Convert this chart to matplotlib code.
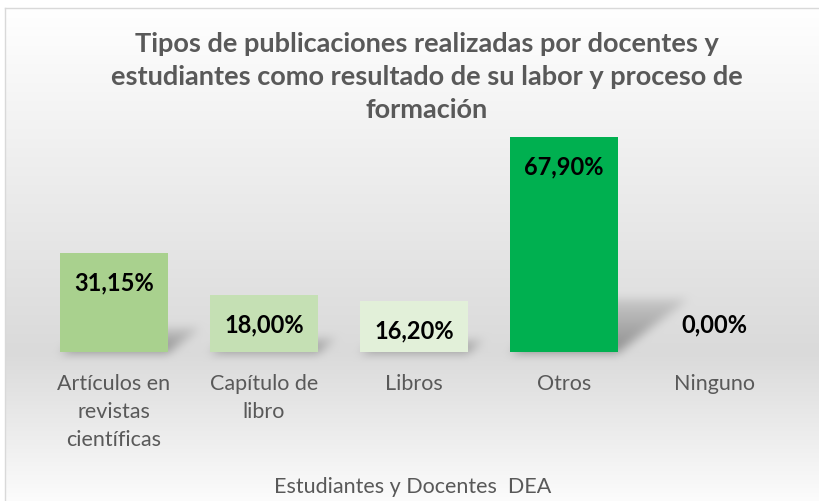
import numpy as np
import matplotlib.pyplot as plt
from matplotlib.lines import Line2D

categorias = ['Artículos en\nrevistas\ncientíficas', 'Capítulo de\nlibro', 'Libros', 'Otros', 'Ninguno']
porcentajes = [31.15, 18.00, 16.20, 67.90, 0.00]
etiquetas = ['31,15%', '18,00%', '16,20%', '67,90%', '0,00%']
colores = ['#a9d18e', '#c5e0b4', '#e2f0d9', '#00b050', '#ffffff']

titulo = 'Tipos de publicaciones realizadas por docentes y\nestudiantes como resultado de su labor y proceso de\nformación'
eje_x = 'Estudiantes y Docentes  DEA'

gris = '#595959'
W, H = 820, 501

plt.rcParams['font.family'] = ['Lato', 'DejaVu Sans']

fig = plt.figure(figsize=(W / 100, H / 100), dpi=100)
ax = fig.add_axes([39 / W, 149 / H, 750 / W, 222 / H])
ax.set_xlim(-0.5, 4.5)
ax.set_ylim(0, 70)

x = np.arange(len(categorias))
barras = ax.bar(x, porcentajes, width=0.715, color=colores, zorder=3)

# --- fondo degradado + sombras de las barras ---
base = H - ax.transData.transform((0, 0))[1]
filas = np.arange(H)
v = np.where(filas < base,
             255 + (218 - 255) * (filas - 8) / (base - 8),
             218 + (252 - 218) * (filas - base) / (H - base))
fondo = np.repeat(v[:, None], W, axis=1) / 255.0

cols = np.arange(W)[None, :]
rr = filas[:, None]
sombra = np.zeros((H, W))
for b in barras:
    if b.get_height() <= 0:
        continue
    (x0, y0), (x1, y1) = ax.transData.transform([(b.get_x(), 0), (b.get_x() + b.get_width(), b.get_height())])
    h = y1 - y0
    alto = 0.25 * h
    d = 0.33 * h
    t = (base - rr) / alto
    dentro = (t >= 0) & (t <= 1) & (cols >= x0 + d * t) & (cols <= x1 + d * t)
    sombra = np.maximum(sombra, dentro * (1 - 0.7 * np.clip(t, 0, 1)))


def suavizar(a, n):
    k = np.ones(n) / n
    a = np.apply_along_axis(lambda f: np.convolve(f, k, mode='same'), 1, a)
    a = np.apply_along_axis(lambda f: np.convolve(f, k, mode='same'), 0, a)
    return a


sombra = suavizar(suavizar(sombra, 11), 11)
fondo = fondo * (1 - 0.35 * sombra)
fondo[:8, :] = 1.0
fondo[:, :5] = 1.0
img = np.dstack([fondo] * 3)

bgax = fig.add_axes([0, 0, 1, 1], zorder=-1)
bgax.imshow(img, aspect='auto', interpolation='nearest')
bgax.axis('off')

fig.add_artist(Line2D([5.5 / W, 5.5 / W], [0, 1 - 8 / H], transform=fig.transFigure, color='#d9d9d9', lw=1))
fig.add_artist(Line2D([5.5 / W, 1], [1 - 8 / H, 1 - 8 / H], transform=fig.transFigure, color='#d9d9d9', lw=1))

# --- etiquetas de datos ---
for i, (val, txt) in enumerate(zip(porcentajes, etiquetas)):
    off = -30 if val > 5 else 27
    ax.annotate(txt, xy=(i, val), xytext=(0, off), textcoords='offset pixels',
                ha='center', va='center', fontsize=17, fontweight='bold', color='black', zorder=5)

ax.patch.set_alpha(0)
for s in ax.spines.values():
    s.set_visible(False)
ax.set_yticks([])
ax.set_xticks(x)
ax.set_xticklabels(categorias, fontsize=15.5, color=gris, linespacing=1.5)
ax.tick_params(axis='x', length=0, pad=15.5)

fig.text(427 / W, 1 - 77 / H, titulo, ha='center', va='center', fontsize=19.5,
         fontweight='bold', color=gris, linespacing=1.45)
fig.text(413 / W, 1 - 487 / H, eje_x, ha='center', va='center', fontsize=15.5, color=gris)

fig.savefig('out.png', dpi=100)
